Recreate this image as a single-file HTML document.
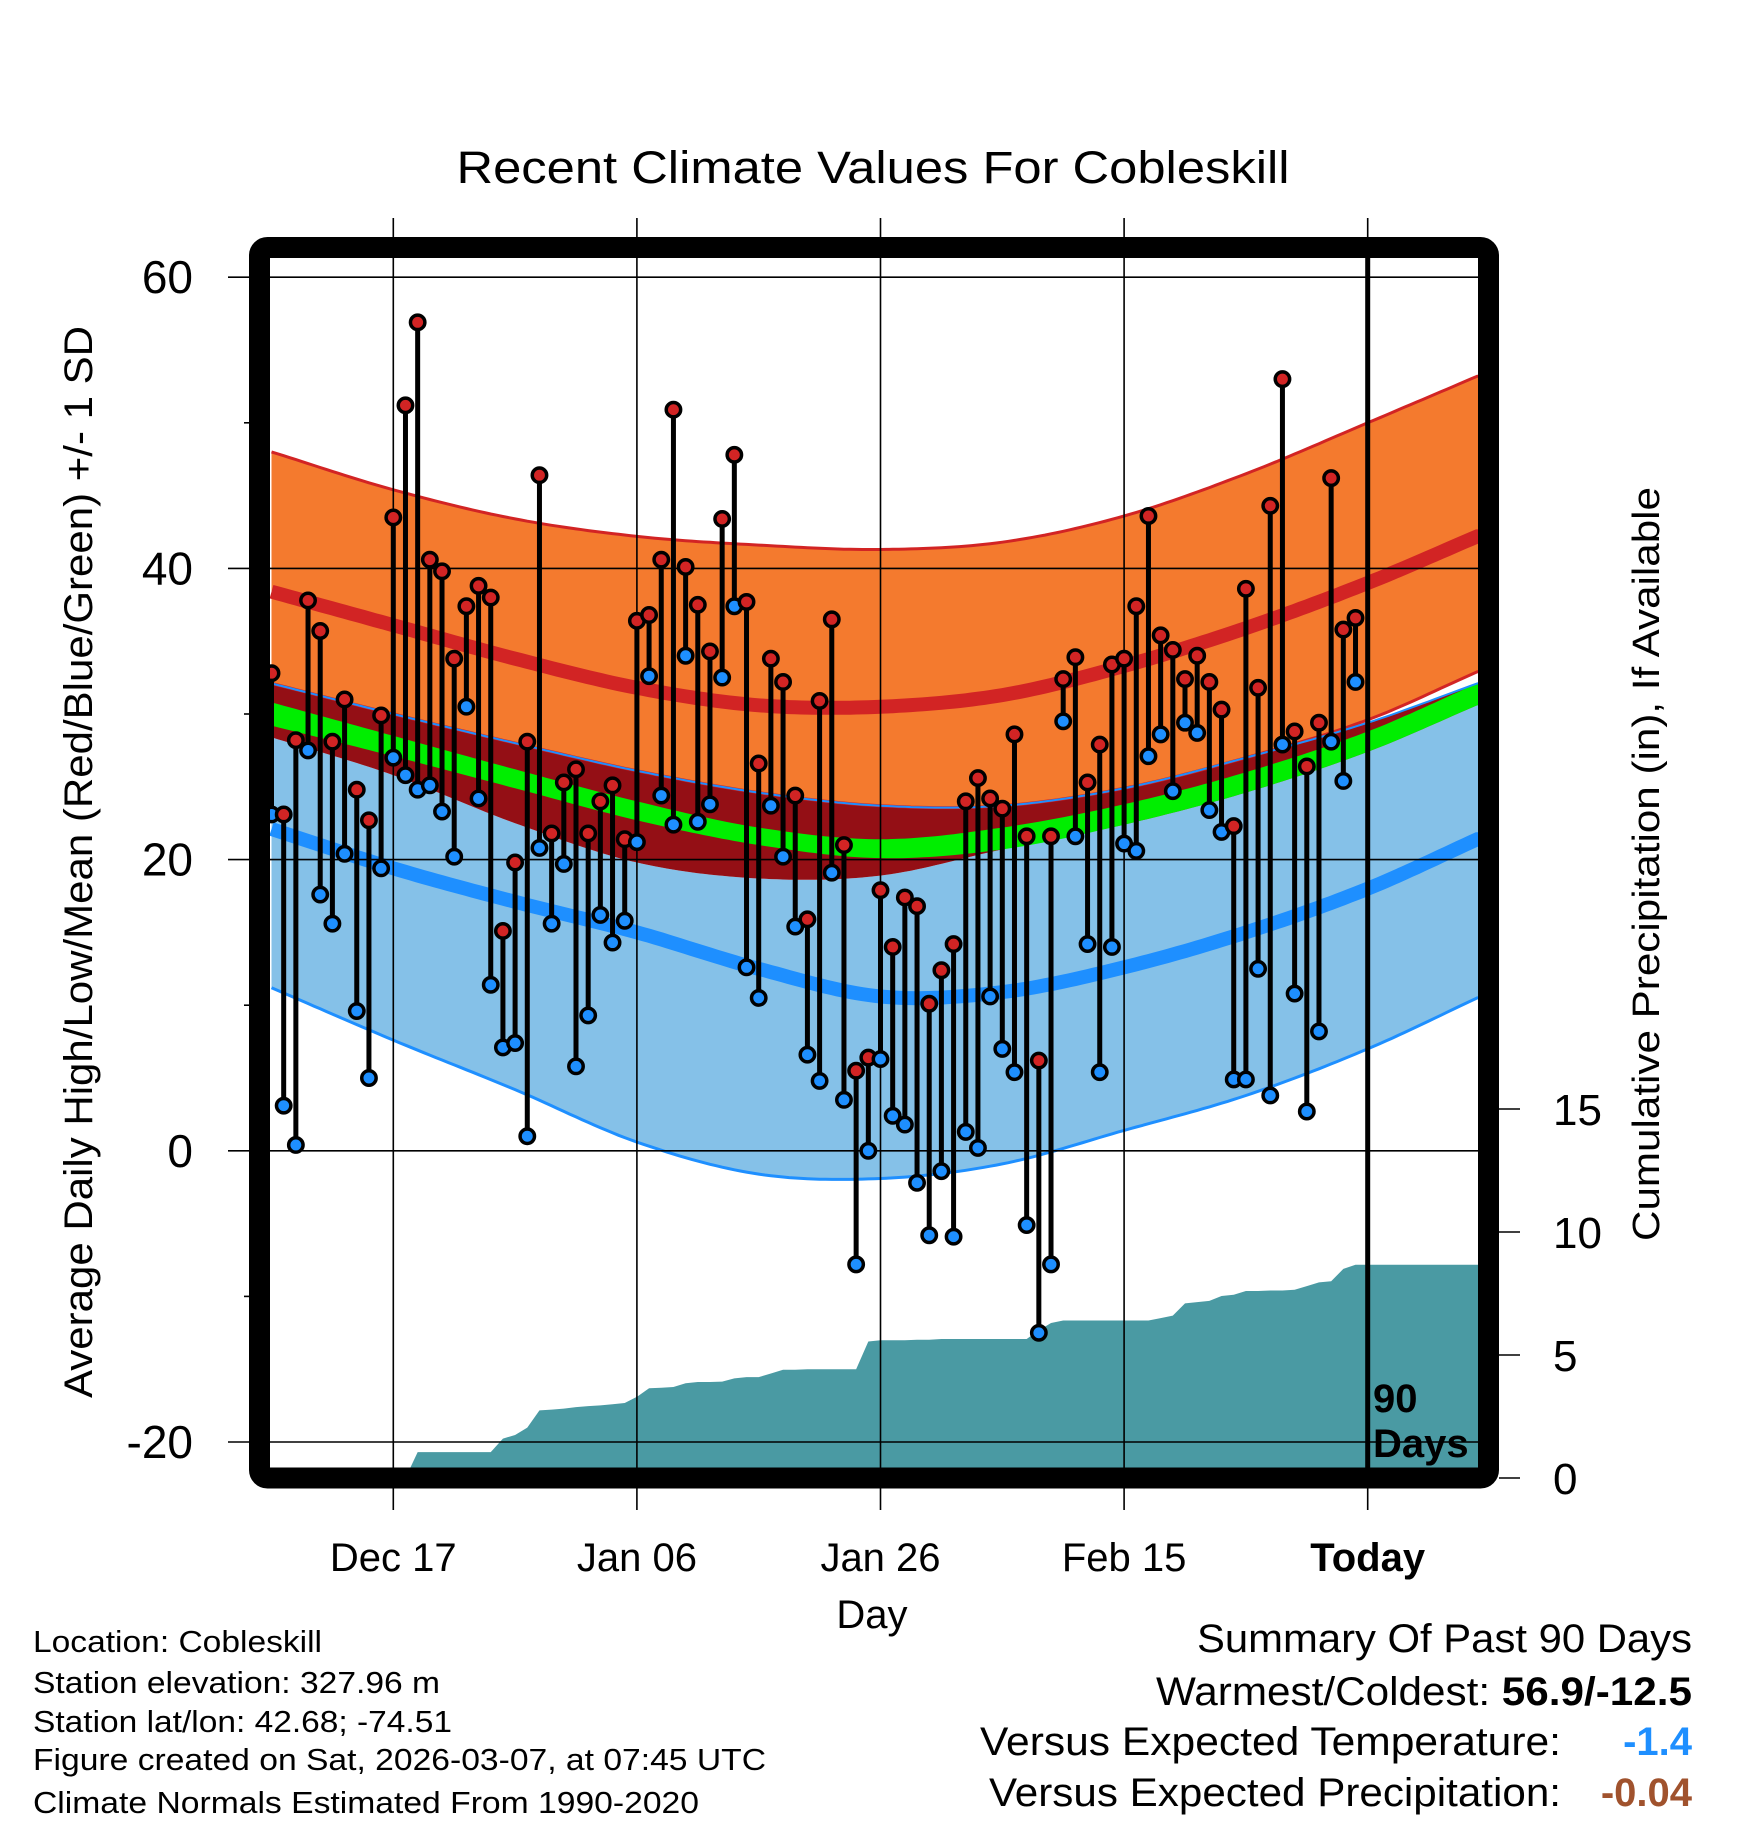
<!DOCTYPE html>
<html><head><meta charset="utf-8"><title>Recent Climate Values For Cobleskill</title>
<style>
html,body{margin:0;padding:0;background:#fff;}
svg{display:block;font-family:"Liberation Sans",Arial,sans-serif;}
</style></head>
<body>
<svg id="chart" width="1748" height="1828" viewBox="0 0 1748 1828" xmlns="http://www.w3.org/2000/svg">
  <defs><clipPath id="plotclip"><rect x="270" y="257" width="1208" height="1211"/></clipPath></defs>
  <text x="873" y="183" font-size="45" text-anchor="middle" textLength="833" lengthAdjust="spacingAndGlyphs">Recent Climate Values For Cobleskill</text>
  <g id="fills" clip-path="url(#plotclip)"></g>
  <g id="grid"></g>
  <g id="marks" clip-path="url(#plotclip)"></g>
  <g id="axes"></g>
  <rect x="259.5" y="247.5" width="1229" height="1230.5" rx="8" fill="none" stroke="#000" stroke-width="21"/>
  <text font-weight="bold" font-size="40"><tspan x="1373" y="1412">90</tspan><tspan x="1373" y="1457">Days</tspan></text>
  <text x="872" y="1628" font-size="40" text-anchor="middle">Day</text>
  <text transform="translate(92,862) rotate(-90)" font-size="40" text-anchor="middle" textLength="1072" lengthAdjust="spacingAndGlyphs">Average Daily High/Low/Mean (Red/Blue/Green) +/- 1 SD</text>
  <text transform="translate(1659,864) rotate(-90)" font-size="38" text-anchor="middle" textLength="754" lengthAdjust="spacingAndGlyphs">Cumulative Precipitation (in), If Available</text>
  <g font-size="31">
    <text x="33" y="1652" textLength="289" lengthAdjust="spacingAndGlyphs">Location: Cobleskill</text>
    <text x="33" y="1693" textLength="407" lengthAdjust="spacingAndGlyphs">Station elevation: 327.96 m</text>
    <text x="33" y="1732" textLength="419" lengthAdjust="spacingAndGlyphs">Station lat/lon: 42.68; -74.51</text>
    <text x="33" y="1770" textLength="733" lengthAdjust="spacingAndGlyphs">Figure created on Sat, 2026-03-07, at 07:45 UTC</text>
    <text x="33" y="1813" textLength="666" lengthAdjust="spacingAndGlyphs">Climate Normals Estimated From 1990-2020</text>
  </g>
  <g font-size="40">
    <text x="1692" y="1652" text-anchor="end" textLength="495" lengthAdjust="spacingAndGlyphs">Summary Of Past 90 Days</text>
    <text x="1692" y="1705" text-anchor="end" textLength="536" lengthAdjust="spacingAndGlyphs">Warmest/Coldest: <tspan font-weight="bold">56.9/-12.5</tspan></text>
    <text x="1561" y="1755" text-anchor="end" textLength="581" lengthAdjust="spacingAndGlyphs">Versus Expected Temperature:</text>
    <text x="1692" y="1755" text-anchor="end" font-weight="bold" fill="#1e8fff">-1.4</text>
    <text x="1561" y="1806" text-anchor="end" textLength="572" lengthAdjust="spacingAndGlyphs">Versus Expected Precipitation:</text>
    <text x="1692" y="1806" text-anchor="end" font-weight="bold" fill="#a0522d">-0.04</text>
  </g>
</svg>
<script>
// ---- data ----
const highs = [32.8,23.1,28.2,37.8,35.7,28.1,31,24.8,22.7,29.9,43.5,51.2,56.9,40.6,39.8,33.8,37.4,38.8,38,15.1,19.8,28.1,46.4,21.8,25.3,26.2,21.8,24,25.1,21.4,36.4,36.8,40.6,50.9,40.1,37.5,34.3,43.4,47.8,37.7,26.6,33.8,32.2,24.4,15.9,30.9,36.5,21,5.5,6.4,17.9,14,17.4,16.8,10.1,12.4,14.2,24,25.6,24.2,23.5,28.6,21.6,6.2,21.6,32.4,33.9,25.3,27.9,33.4,33.8,37.4,43.6,35.4,34.4,32.4,34,32.2,30.3,22.3,38.6,31.8,44.3,53,28.8,26.4,29.4,46.2,35.8,36.6];
const lows = [23.1,3.1,0.4,27.5,17.6,15.6,20.4,9.6,5,19.4,27,25.8,24.8,25.1,23.3,20.2,30.5,24.2,11.4,7.1,7.4,1,20.8,15.6,19.7,5.8,9.3,16.2,14.3,15.8,21.2,32.6,24.4,22.4,34,22.6,23.8,32.5,37.4,12.6,10.5,23.7,20.2,15.4,6.6,4.8,19.1,3.5,-7.8,0,6.3,2.4,1.8,-2.2,-5.8,-1.4,-5.9,1.3,0.2,10.6,7,5.4,-5.1,-12.5,-7.8,29.5,21.6,14.2,5.4,14,21.1,20.6,27.1,28.6,24.7,29.4,28.7,23.4,21.9,4.9,4.9,12.5,3.8,27.9,10.8,2.7,8.2,28.1,25.4,32.2];
const precip = [0,0,0,0,0,0,0,0,0,0,0,0,1.05,1.05,1.05,1.05,1.05,1.05,1.05,1.6,1.75,2.05,2.75,2.78,2.82,2.88,2.92,2.95,3.0,3.05,3.3,3.65,3.67,3.7,3.85,3.9,3.9,3.92,4.05,4.1,4.1,4.25,4.4,4.4,4.42,4.42,4.42,4.42,4.42,5.55,5.6,5.6,5.6,5.62,5.62,5.65,5.65,5.65,5.65,5.65,5.65,5.65,5.65,6.0,6.3,6.4,6.4,6.4,6.4,6.4,6.4,6.4,6.4,6.5,6.6,7.1,7.15,7.2,7.4,7.45,7.6,7.6,7.62,7.62,7.65,7.8,7.95,8.0,8.5,8.67];
const normDays = [0,10,20,30,40,50,60,70,80,90,99];
const highUpper = [48,45.4,43.4,42.2,41.6,41.3,41.8,43.6,46.5,50.0,53.2];
const highMean = [38.4,36.1,33.8,31.8,30.6,30.5,31.3,33.3,35.9,39.0,42.2];
const highLower = [32.1,30.0,28.0,26.1,24.6,23.7,23.7,24.9,27.0,29.6,32.9];
const meanUpper = [32.1,30.0,28.0,26.1,24.6,23.7,23.7,24.9,27.0,29.4,32.1];
const meanTop = [30.8,28.5,26.2,24.0,22.2,21.4,22.2,23.8,26.0,28.8,32.1];
const meanBottom = [29.2,27.1,24.9,22.7,21.0,20.1,20.7,22.4,24.6,27.4,30.6];
const lowUpper = [28.4,25.8,22.5,19.8,18.7,18.9,20.7,22.4,24.6,27.4,30.6];
const lowMean = [22.1,19.4,17.1,15.0,12.5,10.6,10.9,12.6,15.0,18.0,21.4];
const lowLower = [11.2,7.6,4.2,0.6,-1.6,-1.9,-0.9,1.4,3.8,7.0,10.5];
const tempTicks = [60,40,20,0,-20];
const tempMinorTicks = [50,30,10,-10];
const precipTicks = [0,5,10,15];
const dateTicks = [10,30,50,70,90];
const dateLabels = ["Dec 17","Jan 06","Jan 26","Feb 15","Today"];

// ---- scales ----
const X0 = 271.5, DX = 12.18, XR = 1478;
function xS(d){ return X0 + DX*d; }
function yT(t){ return 1442 - (t+20)*14.56; }
function yP(v){ return 1478 - v*24.6; }
const NS = "http://www.w3.org/2000/svg";
function mk(tag, attrs, parent){ const e=document.createElementNS(NS,tag); for(const k in attrs) e.setAttribute(k,attrs[k]); parent.appendChild(e); return e; }

function interp(arr, d){
  let i = 0; while(i < normDays.length-2 && d > normDays[i+1]) i++;
  const n = normDays.length;
  const h = normDays[i+1]-normDays[i];
  const t = (d - normDays[i])/h;
  const slope = j => {
    const a = Math.max(j-1,0), b = Math.min(j+1,n-1);
    return (arr[b]-arr[a])/(normDays[b]-normDays[a]);
  };
  const m1 = slope(i)*h, m2 = slope(i+1)*h;
  const t2=t*t, t3=t2*t;
  return (2*t3-3*t2+1)*arr[i] + (t3-2*t2+t)*m1 + (-2*t3+3*t2)*arr[i+1] + (t3-t2)*m2;
}
const dmax = (XR - X0)/DX;
function curvePts(arr){ const pts=[]; for(let d=0; d<=dmax+0.001; d+=0.5){ pts.push([xS(d), yT(interp(arr,Math.min(d,99)))]); } pts.push([XR, yT(interp(arr,Math.min(dmax,99)))]); return pts; }
function band(a,b){ const top=curvePts(a), bot=curvePts(b).reverse(); return top.concat(bot).map(p=>p[0].toFixed(1)+","+p[1].toFixed(1)).join(" "); }
function line(a){ return curvePts(a).map(p=>p[0].toFixed(1)+","+p[1].toFixed(1)).join(" "); }

const fills = document.getElementById('fills');
const pf = [[xS(0), yP(0)]];
precip.forEach((v,i)=>pf.push([xS(i), yP(v)]));
pf.push([XR, yP(precip[precip.length-1])]); pf.push([XR, yP(0)]);
let e;
e = mk('polygon',{points:pf.map(p=>p.join(",")).join(" "), fill:'#4a9aa3'},fills);


e = mk('polygon',{points:band(highUpper,highLower), fill:'#f47a2e'},fills);


e = mk('polygon',{points:band(lowUpper,lowLower), fill:'#85c1e8'},fills);


e = mk('polygon',{points:band(meanUpper,lowUpper), fill:'#940f15'},fills);


e = mk('polygon',{points:band(meanTop,meanBottom), fill:'#00ee00'},fills);


e = mk('polyline',{points:line(highUpper), fill:'none', stroke:'#d22424','stroke-width':3},fills);


e = mk('polyline',{points:line(highLower), fill:'none', stroke:'#d22424','stroke-width':3},fills);


e = mk('polyline',{points:line(meanUpper), fill:'none', stroke:'#1e8fff','stroke-width':2},fills);


e = mk('polyline',{points:line(lowLower), fill:'none', stroke:'#1e8fff','stroke-width':3},fills);


e = mk('polyline',{points:line(highMean), fill:'none', stroke:'#d22424','stroke-width':14},fills);


e = mk('polyline',{points:line(lowMean), fill:'none', stroke:'#1e8fff','stroke-width':14},fills);



// grid & axes
const grid = document.getElementById('grid'), axes = document.getElementById('axes');
tempTicks.forEach(t=>{
  e = mk('line',{x1:228,x2:1478,y1:yT(t),y2:yT(t),stroke:'#000','stroke-width':1.6},grid);
  
  
  e = mk('text',{x:193,y:yT(t)+16,'font-size':46,'text-anchor':'end'},axes);
  e.textContent = String(t);
  
  
});
tempMinorTicks.forEach(t=>{
  e = mk('line',{x1:244,x2:252,y1:yT(t),y2:yT(t),stroke:'#000','stroke-width':1.6},axes);
  
  
});
dateTicks.forEach((d,i)=>{
  const today = i===dateTicks.length-1;
  e = mk('line',{x1:xS(d),x2:xS(d),y1:218,y2:1510,stroke:'#000','stroke-width':1.6},grid);
  
  
  e = mk('text',{x:xS(d),y:1571,'font-size':40,'text-anchor':'middle','font-weight':today?'bold':'normal'},axes);
  e.textContent = dateLabels[i];
  
  
});
precipTicks.forEach(v=>{
  e = mk('line',{x1:1499,x2:1520,y1:yP(v),y2:yP(v),stroke:'#000','stroke-width':1.6},axes);
  
  
  e = mk('text',{x:1553,y:yP(v)+16,'font-size':44},axes);
  e.textContent = String(v);
  
  
});

// marks
const marks = document.getElementById('marks');
highs.forEach((h,i)=>{
  const x = xS(i);
  e = mk('line',{x1:x,x2:x,y1:yT(h),y2:yT(lows[i]),stroke:'#000','stroke-width':5},marks);
  
  
});
highs.forEach((h,i)=>{
  const x = xS(i);
  e = mk('circle',{cx:x,cy:yT(lows[i]),r:7.2,fill:'#1e8fff',stroke:'#000','stroke-width':3.5},marks);
  
  
  e = mk('circle',{cx:x,cy:yT(h),r:7.2,fill:'#d22424',stroke:'#000','stroke-width':3.5},marks);
  
  
});
e = mk('line',{x1:xS(90),x2:xS(90),y1:257,y2:1468,stroke:'#000','stroke-width':5},marks);


</script>
</body></html>
